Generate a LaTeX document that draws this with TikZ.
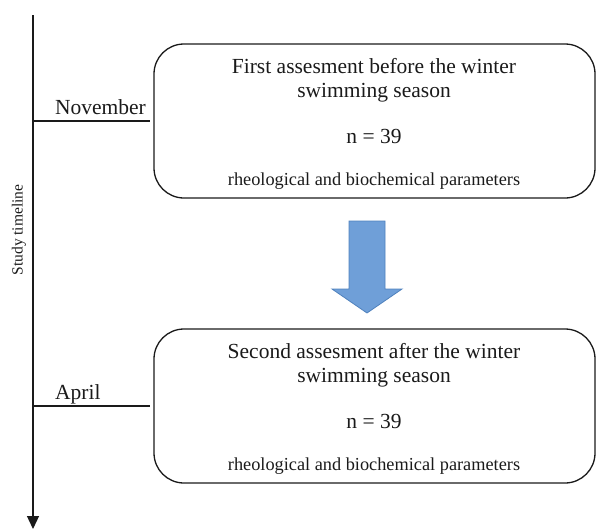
\documentclass[tikz,border=0pt]{standalone}
\usepackage{fontspec}
\setmainfont{Liberation Serif}
\usetikzlibrary{arrows.meta}
\definecolor{ink}{HTML}{1A1A1A}
\definecolor{arrowfill}{HTML}{6F9FD8}
\definecolor{arrowline}{HTML}{4F81BD}
\begin{document}
\begin{tikzpicture}[x=1pt,y=-1pt,
  box/.style={draw=ink,line width=1.3pt,rounded corners=30pt,minimum width=441pt,minimum height=154pt,inner sep=0pt},
  bigtxt/.style={anchor=base,inner sep=0pt,text=ink,font=\fontsize{21.5}{24}\selectfont},
  smalltxt/.style={anchor=base,inner sep=0pt,text=ink,font=\fontsize{18.3}{20}\selectfont},
  tline/.style={draw=ink,line width=1.2pt}]
\useasboundingbox (0,0) rectangle (596,530);
% boxes
\node[box] (b1) at (374.5,121) {};
\node[box] (b2) at (374.5,406) {};
% texts box 1
\node[bigtxt] (t1a) at (374,73) {First assesment before the winter};
\node[bigtxt] (t1b) at (374,97) {swimming season};
\node[bigtxt] (t1c) at (374,143) {n = 39};
\node[smalltxt] (t1d) at (374,185) {rheological and biochemical parameters};
% texts box 2
\node[bigtxt] (t2a) at (374,358) {Second assesment after the winter};
\node[bigtxt] (t2b) at (374,382) {swimming season};
\node[bigtxt] (t2c) at (374,428) {n = 39};
\node[smalltxt] (t2d) at (374,470) {rheological and biochemical parameters};
% timeline
\coordinate (ttop) at (33,15);
\coordinate (tbot) at (33,529);
\draw[tline,-{Triangle[width=12pt,length=13pt]}] (ttop) -- (tbot);
\coordinate (nov) at (33,121);
\coordinate (apr) at (33,406);
\draw[tline,shorten >=3pt] (nov) -- (b1.west);
\draw[tline,shorten >=3pt] (apr) -- (b2.west);
\node[bigtxt,anchor=base east] (novl) at (146,114) {November};
\node[bigtxt,anchor=base west] (aprl) at (55,399) {April};
\node[text=ink,font=\fontsize{15.5}{17}\selectfont,rotate=90,inner sep=0pt] (stl) at (19,230) {Study timeline};
% block arrow
\draw[fill=arrowfill,draw=arrowline,line width=0.8pt]
  (349,221) -- (385,221) -- (385,289) -- (402,289) -- (367,313) -- (332,289) -- (349,289) -- cycle;
\end{tikzpicture}
\end{document}
